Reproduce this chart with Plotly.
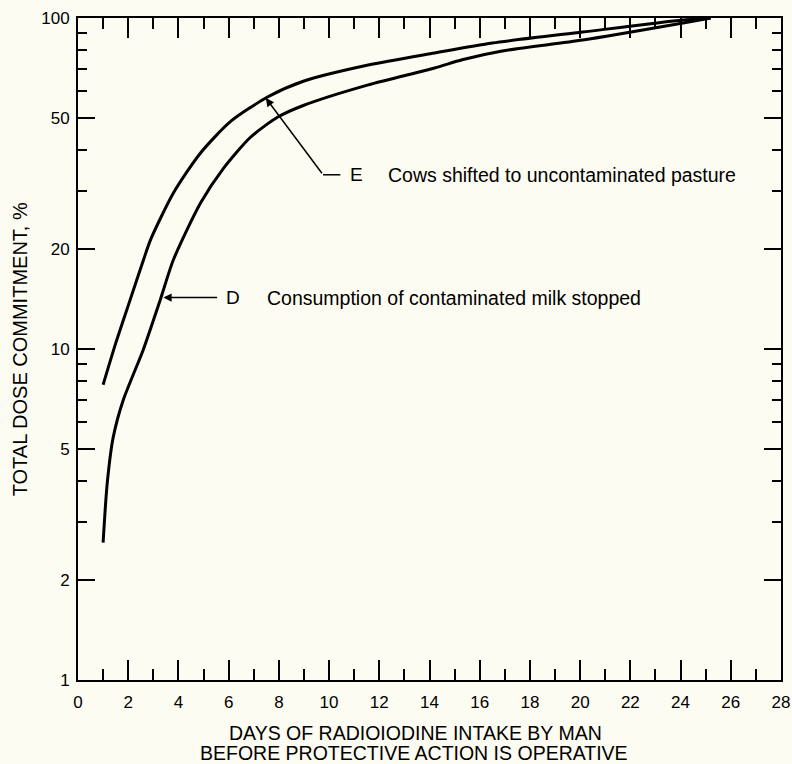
import math
import plotly.graph_objects as go

# Curve E: cows shifted to uncontaminated pasture
days_e = [1.0, 1.5, 2.08, 2.61, 2.88, 3.8, 4.88, 6.08, 7.55, 9.0, 11.56, 14.2, 16.5, 20.1, 24.1, 25.2]
dose_e = [7.8, 10.4, 14.1, 18.6, 21.3, 29.6, 39.1, 48.7, 57.7, 64.5, 72.1, 78.4, 84.0, 90.7, 98.6, 100.0]

# Curve D: consumption of contaminated milk stopped
days_d = [1.0, 1.16, 1.4, 1.8, 2.6, 3.28, 3.8, 4.88, 5.8, 6.88, 7.96, 9.0, 11.56, 14.2, 15.3, 16.9, 20.1, 24.1, 25.2]
dose_d = [2.6, 3.9, 5.4, 7.0, 9.95, 14.1, 18.6, 27.6, 35.2, 43.7, 50.2, 54.5, 62.8, 70.6, 74.8, 79.5, 85.8, 96.6, 100.0]

x_ticks = list(range(0, 29, 2))
x_minor = list(range(1, 28, 2))
y_ticks = [1, 2, 5, 10, 20, 50, 100]
y_minor = [3, 4, 6, 7, 8, 9, 30, 40, 60, 70, 80, 90]

label_e = "Cows shifted to uncontaminated pasture"
label_d = "Consumption of contaminated milk stopped"
x_title_1 = "DAYS OF RADIOIODINE INTAKE BY MAN"
x_title_2 = "BEFORE PROTECTIVE ACTION IS OPERATIVE"
y_title = "TOTAL DOSE COMMITMENT, %"

BG = "#FDFCF2"
FONT = "Liberation Sans, Arial, sans-serif"
L = math.log10

fig = go.Figure()
for xs, ys in ((days_e, dose_e), (days_d, dose_d)):
    fig.add_trace(go.Scatter(x=xs, y=ys, mode="lines",
                             line=dict(color="black", width=3, shape="spline", smoothing=0.7),
                             showlegend=False, hoverinfo="skip"))

# Label E: elbow leader with arrow to upper curve
e_tip = (7.48, 57.3)
e_elbow = (9.76, 33.6)
fig.add_annotation(x=e_tip[0], y=L(e_tip[1]), ax=e_elbow[0], ay=L(e_elbow[1]),
                   axref="x", ayref="y", xref="x", yref="y",
                   text="", showarrow=True, arrowhead=2, arrowsize=1.1, arrowwidth=1.5, arrowcolor="black")
fig.add_shape(type="line", x0=e_elbow[0], x1=10.45, y0=e_elbow[1], y1=e_elbow[1], xref="x", yref="y",
              line=dict(color="black", width=1.5))
fig.add_annotation(x=10.75, y=L(e_elbow[1]), text="E", showarrow=False, xanchor="left", yanchor="middle",
                   font=dict(size=19, color="black", family=FONT))
fig.add_annotation(x=12.28, y=L(e_elbow[1]), text=label_e, showarrow=False, xanchor="left", yanchor="middle",
                   font=dict(size=19.5, color="black", family=FONT))

# Label D: horizontal arrow to lower curve
d_y = 14.3
fig.add_annotation(x=3.4, y=L(d_y), ax=5.6, ay=L(d_y), axref="x", ayref="y", xref="x", yref="y",
                   text="", showarrow=True, arrowhead=2, arrowsize=1.1, arrowwidth=1.5, arrowcolor="black")
fig.add_annotation(x=5.8, y=L(d_y), text="D", showarrow=False, xanchor="left", yanchor="middle",
                   font=dict(size=19, color="black", family=FONT))
fig.add_annotation(x=7.44, y=L(d_y), text=label_d, showarrow=False, xanchor="left", yanchor="middle",
                   font=dict(size=19.5, color="black", family=FONT))

# Axis titles
fig.add_annotation(xref="paper", yref="paper", x=0.4794, y=-0.0800, yanchor="middle",
                   text=x_title_1, showarrow=False, font=dict(size=19.5, color="black", family=FONT))
fig.add_annotation(xref="paper", yref="paper", x=0.4780, y=-0.1100, yanchor="middle",
                   text=x_title_2, showarrow=False, font=dict(size=19.5, color="black", family=FONT))
fig.add_annotation(xref="paper", yref="paper", x=-0.082, y=0.50, xanchor="center", yanchor="middle",
                   textangle=-90, text=y_title,
                   showarrow=False, font=dict(size=20, color="black", family=FONT))

fig.update_xaxes(range=[0, 28], tickvals=x_ticks, ticktext=[str(v) for v in x_ticks],
                 ticks="inside", ticklen=20, tickwidth=1.5, tickcolor="black",
                 minor=dict(tickvals=x_minor, ticks="inside", ticklen=11, tickwidth=1.5, tickcolor="black", showgrid=False),
                 showline=True, linecolor="black", linewidth=2, mirror="ticks",
                 showgrid=False, zeroline=False, ticklabelstandoff=6, automargin=False,
                 tickfont=dict(size=17, color="black", family=FONT))
fig.update_yaxes(type="log", range=[0, 2], tickvals=y_ticks, ticktext=[str(v) for v in y_ticks],
                 ticks="inside", ticklen=17, tickwidth=1.5, tickcolor="black",
                 minor=dict(tickvals=y_minor, ticks="inside", ticklen=9, tickwidth=1.5, tickcolor="black", showgrid=False),
                 showline=True, linecolor="black", linewidth=2, mirror="ticks",
                 showgrid=False, zeroline=False, ticklabelstandoff=3, automargin=False,
                 tickfont=dict(size=17, color="black", family=FONT))

fig.update_layout(width=792, height=764, paper_bgcolor=BG, plot_bgcolor=BG,
                  margin=dict(l=78, r=11, t=18, b=84), showlegend=False)

fig.write_html("out.html", config={"displayModeBar": False},
               post_script="document.body.style.margin='0px';document.body.style.background='#FDFCF2';")
